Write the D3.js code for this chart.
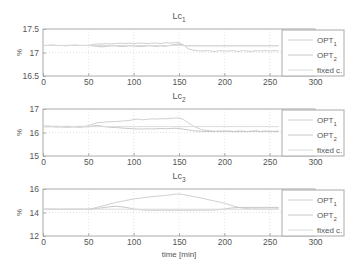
<!DOCTYPE html>
<html>
<head>
<meta charset="utf-8">
<script src="https://cdn.jsdelivr.net/npm/d3@7"></script>
<style>
  body { margin: 0; background: #fff; }
  text { font-family: "Liberation Sans", Arial, sans-serif; fill: #555; }
</style>
</head>
<body>
<div id="chart"></div>
<script>
(function() {
  'use strict';

  // time axis [min], one sample every 5 min
  var time = d3.range(0, 261, 5);

  var lc1Opt1 = [17.15, 17.15, 17.16, 17.15, 17.15, 17.14, 17.15, 17.16, 17.15, 17.15, 17.15,
    17.17, 17.18, 17.18, 17.19, 17.18, 17.19, 17.20, 17.19, 17.20, 17.19, 17.20, 17.20, 17.19, 17.20, 17.20, 17.19, 17.21, 17.20, 17.21,
    17.21, 17.16, 17.08, 17.05, 17.04, 17.03, 17.04, 17.03, 17.02, 17.04, 17.03, 17.03, 17.04, 17.02, 17.04, 17.03, 17.02, 17.04, 17.03, 17.04, 17.03, 17.04, 17.03];
  var lc1Opt2 = [17.15, 17.15, 17.15, 17.15, 17.15, 17.15, 17.15, 17.15, 17.15, 17.15, 17.15,
    17.14, 17.13, 17.12, 17.13, 17.14, 17.14, 17.13, 17.13, 17.14, 17.14, 17.13, 17.13, 17.14, 17.14, 17.13, 17.14, 17.13, 17.15, 17.17,
    17.18, 17.15, 17.14, 17.14, 17.14, 17.14, 17.14, 17.14, 17.14, 17.14, 17.14, 17.14, 17.14, 17.14, 17.14, 17.14, 17.14, 17.14, 17.14, 17.14, 17.14, 17.14, 17.14];
  var lc1Fixed = 17.15;

  var lc2Opt1 = [16.27, 16.28, 16.26, 16.27, 16.25, 16.27, 16.26, 16.25, 16.27, 16.26, 16.28,
    16.36, 16.42, 16.43, 16.45, 16.46, 16.47, 16.48, 16.50, 16.51, 16.55, 16.57, 16.54, 16.56, 16.58, 16.57, 16.59, 16.58, 16.60, 16.61,
    16.62, 16.55, 16.42, 16.30, 16.20, 16.12, 16.09, 16.07, 16.05, 16.06, 16.04, 16.06, 16.05, 16.03, 16.06, 16.04, 16.05, 16.07, 16.04, 16.06, 16.03, 16.05, 16.06];
  var lc2Opt2 = [16.25, 16.24, 16.25, 16.23, 16.24, 16.22, 16.23, 16.24, 16.22, 16.24, 16.25,
    16.28, 16.30, 16.27, 16.24, 16.22, 16.21, 16.20, 16.18, 16.17, 16.16, 16.15, 16.15, 16.16, 16.15, 16.16, 16.17, 16.16, 16.17, 16.18,
    16.17, 16.14, 16.11, 16.08, 16.06, 16.05, 16.04, 16.05, 16.04, 16.05, 16.06, 16.05, 16.04, 16.06, 16.05, 16.04, 16.05, 16.06, 16.04, 16.05, 16.06, 16.04, 16.05];
  var lc2Fixed = 16.25;

  var lc3Opt1 = [14.28, 14.28, 14.29, 14.28, 14.27, 14.28, 14.28, 14.29, 14.28, 14.28, 14.28,
    14.35, 14.45, 14.55, 14.65, 14.75, 14.85, 14.92, 15.00, 15.08, 15.15, 15.20, 15.25, 15.30, 15.35, 15.38, 15.42, 15.45, 15.50, 15.55,
    15.58, 15.52, 15.45, 15.38, 15.30, 15.22, 15.13, 15.05, 14.96, 14.88, 14.80, 14.68, 14.55, 14.45, 14.38, 14.33, 14.30, 14.32, 14.30, 14.31, 14.29, 14.30, 14.31];
  var lc3Opt2 = [14.28, 14.28, 14.28, 14.28, 14.28, 14.28, 14.28, 14.28, 14.28, 14.28, 14.28,
    14.30, 14.35, 14.40, 14.45, 14.50, 14.52, 14.50, 14.45, 14.38, 14.30, 14.25, 14.22, 14.20, 14.20, 14.19, 14.20, 14.20, 14.19, 14.20,
    14.20, 14.20, 14.19, 14.20, 14.21, 14.20, 14.20, 14.21, 14.22, 14.25, 14.30, 14.35, 14.40, 14.42, 14.43, 14.44, 14.43, 14.44, 14.43, 14.44, 14.43, 14.44, 14.43];
  var lc3Fixed = 14.28;

  var xTicks = [0, 50, 100, 150, 200, 250, 300];
  var legendNames = [['OPT', '1'], ['OPT', '2'], ['fixed c.', '']];

  var panels = [
    {sub: '1', domain: [16.5, 17.5], ticks: [16.5, 17, 17.5], opt1: lc1Opt1, opt2: lc1Opt2, fixed: lc1Fixed},
    {sub: '2', domain: [15, 17], ticks: [15, 16, 17], opt1: lc2Opt1, opt2: lc2Opt2, fixed: lc2Fixed},
    {sub: '3', domain: [12, 16], ticks: [12, 14, 16], opt1: lc3Opt1, opt2: lc3Opt2, fixed: lc3Fixed}
  ];

  var width = 356, height = 265,
    left = 43, right = 315,
    tops = [29, 109, 189],
    h_panel = 47,
    lineColor = ['#d0d0d0', '#c8c8c8', '#dadada'];

  var svg = d3.select('#chart').append('svg')
    .attr('width', width)
    .attr('height', height);

  var x = d3.scaleLinear().domain([0, 300]).range([left, right]);

  panels.forEach(function(p, k) {
    var top = tops[k];
    var y = d3.scaleLinear().domain(p.domain).range([top + h_panel, top]);
    var g = svg.append('g');

    // grid
    g.selectAll('line.vgrid')
      .data(xTicks.slice(1, -1))
      .enter().append('line')
      .attr('x1', function(d) {return x(d);})
      .attr('x2', function(d) {return x(d);})
      .attr('y1', top).attr('y2', top + h_panel)
      .attr('stroke', '#e2e2e2').attr('stroke-dasharray', '1,2');
    g.append('line')
      .attr('x1', left).attr('x2', right)
      .attr('y1', y(p.ticks[1])).attr('y2', y(p.ticks[1]))
      .attr('stroke', '#e2e2e2').attr('stroke-dasharray', '1,2');

    // x axis
    var xAxis = g.append('g')
      .attr('transform', 'translate(0,' + (top + h_panel) + ')')
      .call(d3.axisBottom(x).tickValues(xTicks).tickSize(-3).tickPadding(3).tickFormat(d3.format('d')));
    // y axis
    var yAxis = g.append('g')
      .attr('transform', 'translate(' + left + ',0)')
      .call(d3.axisLeft(y).tickValues(p.ticks).tickSize(-3).tickPadding(4).tickFormat(function(d) {return String(d);}));
    [xAxis, yAxis].forEach(function(a) {
      a.select('.domain').remove();
      a.selectAll('line').attr('stroke', '#aaa');
      a.selectAll('text').style('font-size', '8.5px').attr('fill', '#555');
    });

    // frame
    g.append('rect')
      .attr('x', left).attr('y', top)
      .attr('width', right - left).attr('height', h_panel)
      .attr('fill', 'none').attr('stroke', '#aaa').attr('stroke-width', 1);

    // series
    var line = d3.line()
      .x(function(d, i) {return x(time[i]);})
      .y(function(d) {return y(d);});
    var series = [p.opt1, p.opt2, time.map(function() {return p.fixed;})];
    series.forEach(function(s, j) {
      g.append('path')
        .datum(s)
        .attr('d', line)
        .attr('fill', 'none')
        .attr('stroke', lineColor[j])
        .attr('stroke-width', 1);
    });

    // title
    var t = g.append('text')
      .attr('x', (left + right) / 2)
      .attr('y', top - 10)
      .attr('text-anchor', 'middle')
      .style('font-size', '9px');
    t.append('tspan').text('Lc');
    t.append('tspan').attr('dy', 3).style('font-size', '6.5px').text(p.sub);

    // y label
    g.append('text')
      .attr('transform', 'translate(22,' + (top + h_panel / 2) + ') rotate(-90)')
      .attr('text-anchor', 'middle')
      .style('font-size', '8px')
      .text('%');

    // legend
    var lg = g.append('g').attr('transform', 'translate(282,' + (top + 1) + ')');
    lg.append('rect')
      .attr('width', 62).attr('height', h_panel - 1)
      .attr('fill', '#fff').attr('stroke', '#aaa');
    legendNames.forEach(function(n, j) {
      var ly = 10 + j * 15;
      lg.append('line')
        .attr('x1', 6).attr('x2', 31)
        .attr('y1', ly).attr('y2', ly)
        .attr('stroke', lineColor[j]);
      var lt = lg.append('text')
        .attr('x', 35).attr('y', ly + 3)
        .style('font-size', '8px');
      lt.append('tspan').text(n[0]);
      if (n[1]) lt.append('tspan').attr('dy', 3).style('font-size', '6px').text(n[1]);
    });
  });

  svg.append('text')
    .attr('x', (left + right) / 2)
    .attr('y', 257)
    .attr('text-anchor', 'middle')
    .style('font-size', '8px')
    .text('time [min]');
})();
</script>
</body>
</html>
